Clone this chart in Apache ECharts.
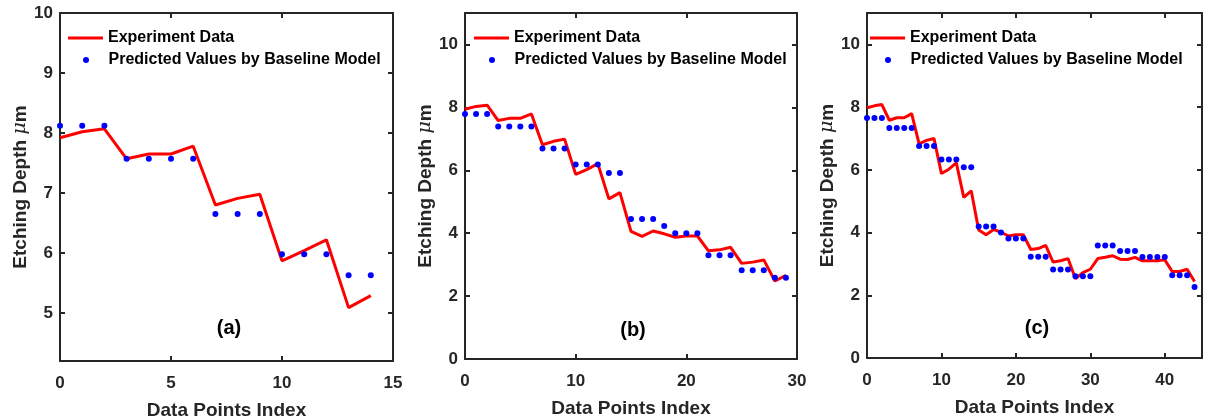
<!DOCTYPE html>
<html>
<head>
<meta charset="utf-8">
<script src="https://cdn.jsdelivr.net/npm/echarts@6/dist/echarts.min.js"></script>
<style>
  html, body { margin: 0; padding: 0; background: #fff; }
  #main { width: 1209px; height: 419px; }
</style>
</head>
<body>
<div id="main"></div>
<script>
// panel (a)
var expA = [7.92, 8.02, 8.07, 7.57, 7.65, 7.65, 7.78, 6.80, 6.91, 6.98, 5.87, 6.04, 6.22, 5.09, 5.29];
var predA = [8.12, 8.12, 8.12, 7.57, 7.57, 7.57, 7.57, 6.65, 6.65, 6.65, 5.98, 5.98, 5.98, 5.63, 5.63];
// panel (b)
var expB = [7.94, 8.03, 8.07, 7.58, 7.65, 7.65, 7.79, 6.81, 6.92, 6.99, 5.87, 6.02, 6.21, 5.09, 5.29,
  4.06, 3.90, 4.07, 3.98, 3.87, 3.91, 3.91, 3.44, 3.47, 3.55, 3.04, 3.08, 3.15, 2.48, 2.66];
var predB = [7.79, 7.79, 7.79, 7.39, 7.39, 7.39, 7.39, 6.69, 6.69, 6.69, 6.18, 6.18, 6.18, 5.91, 5.91,
  4.45, 4.45, 4.45, 4.23, 4.0, 4.0, 4.0, 3.30, 3.30, 3.30, 2.82, 2.82, 2.82, 2.58, 2.58];
// panel (c)
var expC = [7.98, 8.04, 8.08, 7.58, 7.66, 7.66, 7.79, 6.83, 6.94, 7.00, 5.88, 6.02, 6.22, 5.12, 5.33,
  4.08, 3.93, 4.10, 4.01, 3.89, 3.93, 3.93, 3.46, 3.49, 3.59, 3.06, 3.10, 3.17, 2.53, 2.72,
  2.83, 3.17, 3.21, 3.26, 3.15, 3.14, 3.21, 3.10, 3.10, 3.10, 3.13, 2.76, 2.76, 2.83, 2.44];
var predC = [7.65, 7.65, 7.65, 7.33, 7.33, 7.33, 7.33, 6.76, 6.76, 6.76, 6.33, 6.33, 6.33, 6.08, 6.08,
  4.19, 4.19, 4.19, 4.0, 3.81, 3.81, 3.81, 3.23, 3.23, 3.23, 2.82, 2.82, 2.82, 2.61, 2.61,
  2.61, 3.59, 3.59, 3.59, 3.41, 3.41, 3.41, 3.22, 3.22, 3.22, 3.22, 2.64, 2.64, 2.64, 2.26];

var xTicksA = [0, 5, 10, 15];
var yTicksA = [5, 6, 7, 8, 9, 10];
var xTicksB = [0, 10, 20, 30];
var yTicksB = [0, 2, 4, 6, 8, 10];
var xTicksC = [0, 10, 20, 30, 40];
var yTicksC = [0, 2, 4, 6, 8, 10];

var panelLabels = ["(a)", "(b)", "(c)"];
var expName = "Experiment Data";
var predName = "Predicted Values by Baseline Model";

var chart = echarts.init(document.getElementById("main"));

var ink = "#262626";
var font = "Liberation Sans";

function pairs(arr) {
  return arr.map(function(v, i) { return [i, v]; });
}

// layout of each panel (pixels)
var panels = [
  { left: 60, top: 13, width: 333, height: 348, xMax: 15, yMin: 4.2, yMax: 10, xTicks: xTicksA, yTicks: yTicksA, exp: expA, pred: predA, legX: 68, labX: 229, labY: 330 },
  { left: 465, top: 13, width: 332, height: 346, xMax: 30, yMin: 0, yMax: 11, xTicks: xTicksB, yTicks: yTicksB, exp: expB, pred: predB, legX: 474, labX: 633, labY: 332 },
  { left: 867, top: 13, width: 335, height: 345, xMax: 45, yMin: 0, yMax: 11, xTicks: xTicksC, yTicks: yTicksC, exp: expC, pred: predC, legX: 870, labX: 1037, labY: 330 }
];

var grids = [], xAxes = [], yAxes = [], series = [], legends = [], titles = [];

function tickStyle(ticks) {
  // ticks pointing into the plot
  return { show: true, inside: true, length: 5, customValues: ticks, lineStyle: { color: ink, width: 2 } };
}

panels.forEach(function(p, k) {
  grids.push({ left: p.left, top: p.top, width: p.width, height: p.height, containLabel: false, outerBoundsMode: "none" });

  // bottom and top x axes
  xAxes.push({
    type: "value", gridIndex: k, min: 0, max: p.xMax, position: "bottom",
    name: "Data Points Index", nameLocation: "middle", nameGap: 40,
    nameTextStyle: { fontFamily: font, fontWeight: "bold", fontSize: 19, color: ink },
    axisLine: { show: true, onZero: false, lineStyle: { color: ink, width: 2 } },
    axisTick: tickStyle(p.xTicks),
    axisLabel: { show: true, inside: false, margin: 14, customValues: p.xTicks, fontFamily: font, fontWeight: "bold", fontSize: 17, color: ink },
    splitLine: { show: false }
  });
  xAxes.push({
    type: "value", gridIndex: k, min: 0, max: p.xMax, position: "top",
    axisLine: { show: true, onZero: false, lineStyle: { color: ink, width: 2 } },
    axisTick: tickStyle(p.xTicks),
    axisLabel: { show: false },
    splitLine: { show: false }
  });

  // left and right y axes
  yAxes.push({
    type: "value", gridIndex: k, min: p.yMin, max: p.yMax, position: "left",
    name: "Etching Depth {mu|μ}m", nameLocation: "middle", nameGap: 30,
    nameTextStyle: {
      fontFamily: font, fontWeight: "bold", fontSize: 19, color: ink,
      rich: { mu: { fontFamily: "DejaVu Serif", fontStyle: "italic", fontWeight: "normal", fontSize: 19, color: ink } }
    },
    axisLine: { show: true, onZero: false, lineStyle: { color: ink, width: 2 } },
    axisTick: tickStyle(p.yTicks),
    axisLabel: { show: true, inside: false, margin: 7, customValues: p.yTicks, fontFamily: font, fontWeight: "bold", fontSize: 17, color: ink },
    splitLine: { show: false }
  });
  yAxes.push({
    type: "value", gridIndex: k, min: p.yMin, max: p.yMax, position: "right",
    axisLine: { show: true, onZero: false, lineStyle: { color: ink, width: 2 } },
    axisTick: tickStyle(p.yTicks),
    axisLabel: { show: false },
    splitLine: { show: false }
  });

  series.push({
    name: expName, type: "line", xAxisIndex: k * 2, yAxisIndex: k * 2,
    data: pairs(p.exp), showSymbol: false, symbol: "none",
    lineStyle: { color: "#ff0000", width: 3 }, itemStyle: { color: "#ff0000" },
    animation: false, z: 3
  });
  series.push({
    name: predName, type: "scatter", xAxisIndex: k * 2, yAxisIndex: k * 2,
    data: pairs(p.pred), symbol: "circle", symbolSize: 6,
    itemStyle: { color: "#0000ff", opacity: 1 }, animation: false, z: 4
  });

  legends.push({
    data: [expName], left: p.legX, top: 30, padding: 0,
    icon: "rect", itemWidth: 35, itemHeight: 3, selectedMode: false,
    textStyle: { fontFamily: font, fontWeight: "bold", fontSize: 16, color: "#000" }
  });
  legends.push({
    data: [predName], left: p.legX + 15, top: 52, padding: 0,
    icon: "circle", itemWidth: 35, itemHeight: 6, selectedMode: false,
    itemStyle: { opacity: 1 },
    textStyle: { fontFamily: font, fontWeight: "bold", fontSize: 16, color: "#000" }
  });

  titles.push({
    text: panelLabels[k], left: p.labX, top: p.labY - 12, textAlign: "center", padding: 0,
    textStyle: { fontFamily: font, fontWeight: "bold", fontSize: 20, color: "#000" }
  });
});

var option = {
  animation: false,
  backgroundColor: "#fff",
  title: titles,
  legend: legends,
  grid: grids,
  xAxis: xAxes,
  yAxis: yAxes,
  series: series
};

chart.setOption(option);
</script>
</body>
</html>
